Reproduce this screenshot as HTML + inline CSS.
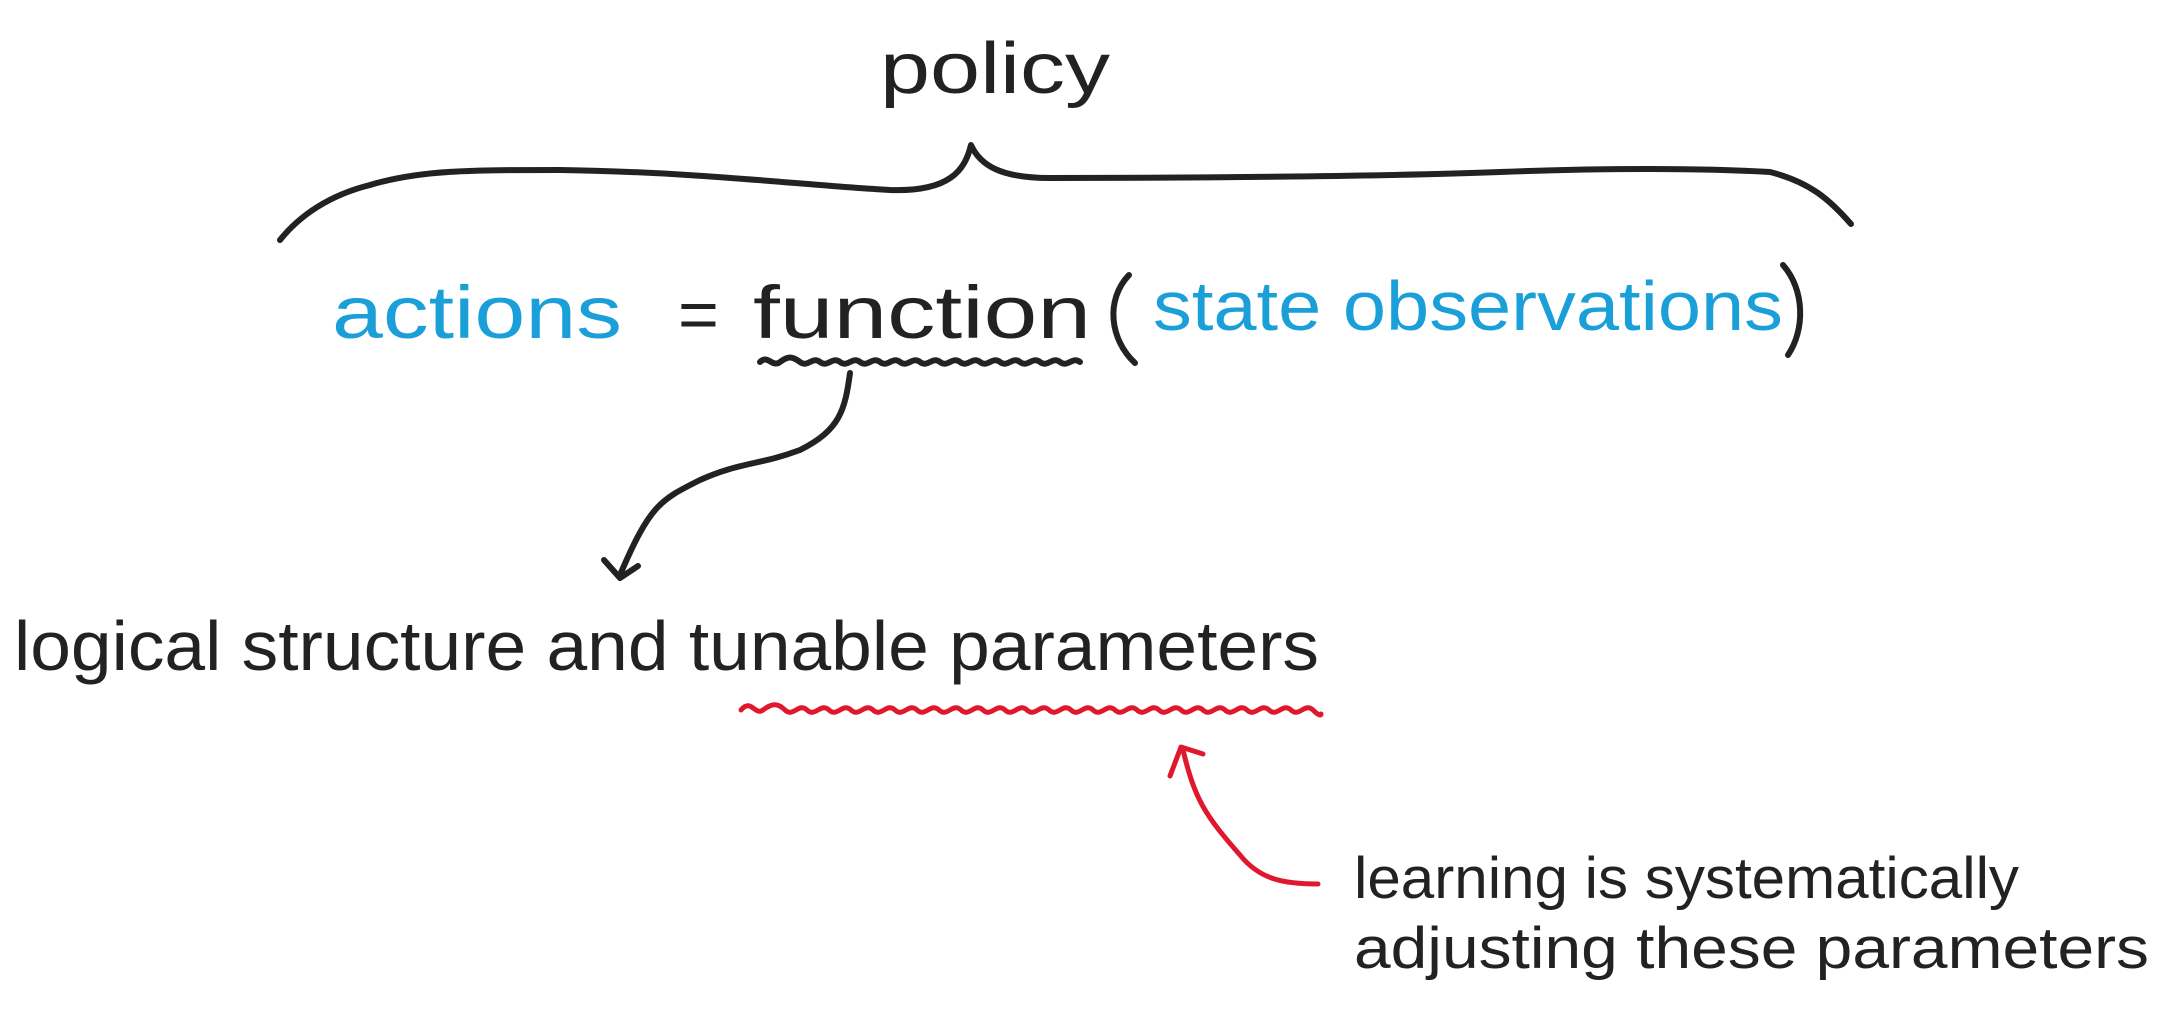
<!DOCTYPE html>
<html><head><meta charset="utf-8"><style>
html,body{margin:0;padding:0;background:#fff;}
svg{display:block}
text{font-family:"Liberation Sans",sans-serif;}
</style></head><body>
<svg width="2166" height="1010" viewBox="0 0 2166 1010" xmlns="http://www.w3.org/2000/svg">
<g fill="none" stroke="#222" stroke-width="6" stroke-linecap="round" stroke-linejoin="round">
<path d="M280 240 C300 215 330 195 370 185 C420 170 470 170 560 170 C700 172 800 185 890 190 C950 192 965 170 971 145 C980 165 1000 178 1050 178 C1200 178 1400 176 1500 172 C1600 168 1700 168 1770 172 C1810 182 1830 200 1851 224"/>
<path d="M1129 275 C1105 300 1110 340 1135 363"/>
<path d="M1783 265 C1805 290 1805 330 1788 355"/>
<path d="M760 362 c8 -8 12 6 20 0 s12 -6 20 0 s12 -6 20 0 s12 -6 20 0 s12 -6 20 0 s12 -6 20 0 s12 -6 20 0 s12 -6 20 0 s12 -6 20 0 s12 -6 20 0 s12 -6 20 0 s12 -6 20 0 s12 -6 20 0 s12 -6 20 0 s12 -6 20 0 s12 -6 20 0"/>
<path d="M850 373 C845 410 840 430 800 450 C760 465 740 462 700 480 C660 500 650 505 620 575"/>
<path d="M604 560 L620 578 L638 566"/>
</g>
<g fill="none" stroke="#e0182d" stroke-width="5" stroke-linecap="round" stroke-linejoin="round">
<path d="M741 710 c10 -12 14 6 22 0 s14 -8 22 0 s14 -8 22 0 s14 -8 22 0 s14 -8 22 0 s14 -8 22 0 s14 -8 22 0 s14 -8 22 0 s14 -8 22 0 s14 -8 22 0 s14 -8 22 0 s14 -8 22 0 s14 -8 22 0 s14 -8 22 0 s14 -8 22 0 s14 -8 22 0 s14 -8 22 0 s14 -8 22 0 s14 -8 22 0 s14 -8 22 0 s14 -8 22 0 s14 -8 22 0 s14 -8 22 0 s14 -8 22 0 s14 -8 22 0 s14 -8 22 0 s8 4 8 4"/>
<path d="M1318 884 C1285 884 1260 880 1240 855 C1205 815 1195 800 1183 750"/>
<path d="M1170 776 L1181 747 L1203 754"/>
</g>
<text x="995" y="93" font-size="72" fill="#222" text-anchor="middle" textLength="230" lengthAdjust="spacingAndGlyphs">policy</text>
<text x="332" y="338" font-size="74" fill="#1a9fd8" textLength="290" lengthAdjust="spacingAndGlyphs">actions</text>
<text x="678" y="338" font-size="70" fill="#222">=</text>
<text x="753" y="338" font-size="74" fill="#222" textLength="338" lengthAdjust="spacingAndGlyphs">function</text>
<text x="1153" y="330" font-size="70" fill="#1a9fd8" textLength="630" lengthAdjust="spacingAndGlyphs">state observations</text>
<text x="14" y="670" font-size="70" fill="#222" textLength="1305" lengthAdjust="spacingAndGlyphs">logical structure and  tunable parameters</text>
<text x="1354" y="898" font-size="58" fill="#222" textLength="665" lengthAdjust="spacingAndGlyphs">learning is systematically</text>
<text x="1354" y="968" font-size="58" fill="#222" textLength="795" lengthAdjust="spacingAndGlyphs">adjusting these parameters</text>
</svg>
</body></html>
